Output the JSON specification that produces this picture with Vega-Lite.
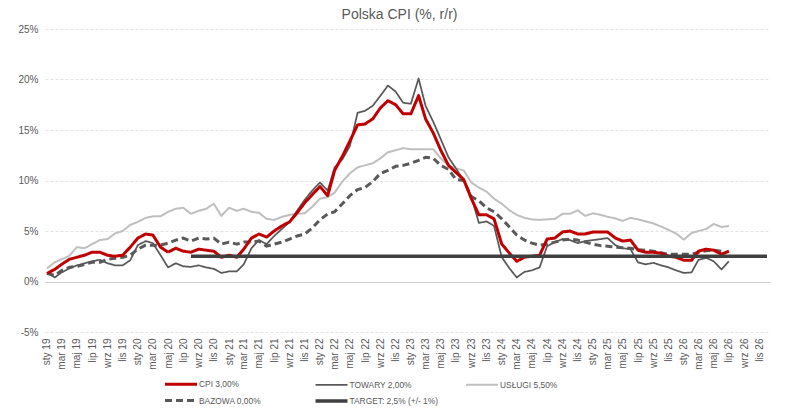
{
  "$schema": "https://vega.github.io/schema/vega-lite/v6.json",
  "autosize": {"type": "none"},
  "width": 725,
  "height": 303,
  "padding": {"left": 45, "top": 29, "right": 23, "bottom": 82},
  "background": "#ffffff",
  "title": {"text": "Polska CPI (%, r/r)", "fontSize": 14, "font": "Liberation Sans", "fontWeight": "normal", "color": "#595959", "offset": 2, "dx": -8},
  "config": {"view": {"stroke": null}, "font": "Liberation Sans"},
  "data": {"values": [
    {"d":"2019-01-01","cpi":0.8,"tow":0.9,"usl":1.3,"baz":0.8},
    {"d":"2019-02-01","cpi":1.2,"tow":0.4,"usl":1.9,"baz":0.6},
    {"d":"2019-03-01","cpi":1.7,"tow":0.9,"usl":2.2,"baz":1.1},
    {"d":"2019-04-01","cpi":2.2,"tow":1.3,"usl":2.55,"baz":1.4},
    {"d":"2019-05-01","cpi":2.4,"tow":1.6,"usl":3.4,"baz":1.5},
    {"d":"2019-06-01","cpi":2.6,"tow":1.8,"usl":3.3,"baz":1.7},
    {"d":"2019-07-01","cpi":2.9,"tow":2.0,"usl":3.7,"baz":1.9},
    {"d":"2019-08-01","cpi":2.9,"tow":2.15,"usl":4.1,"baz":1.9},
    {"d":"2019-09-01","cpi":2.6,"tow":1.8,"usl":4.2,"baz":2.2},
    {"d":"2019-10-01","cpi":2.5,"tow":1.6,"usl":4.75,"baz":2.3},
    {"d":"2019-11-01","cpi":2.6,"tow":1.6,"usl":5.0,"baz":2.4},
    {"d":"2019-12-01","cpi":3.4,"tow":2.1,"usl":5.6,"baz":2.6},
    {"d":"2020-01-01","cpi":4.3,"tow":3.6,"usl":5.9,"baz":3.2},
    {"d":"2020-02-01","cpi":4.7,"tow":4.0,"usl":6.3,"baz":3.6},
    {"d":"2020-03-01","cpi":4.6,"tow":3.8,"usl":6.45,"baz":3.6},
    {"d":"2020-04-01","cpi":3.4,"tow":2.6,"usl":6.45,"baz":3.6},
    {"d":"2020-05-01","cpi":2.9,"tow":1.4,"usl":6.9,"baz":3.8},
    {"d":"2020-06-01","cpi":3.3,"tow":1.8,"usl":7.2,"baz":4.1},
    {"d":"2020-07-01","cpi":3.0,"tow":1.5,"usl":7.3,"baz":4.3},
    {"d":"2020-08-01","cpi":2.9,"tow":1.45,"usl":6.7,"baz":4.0,"tar":2.5},
    {"d":"2020-09-01","cpi":3.2,"tow":1.6,"usl":7.0,"baz":4.3,"tar":2.5},
    {"d":"2020-10-01","cpi":3.1,"tow":1.4,"usl":7.2,"baz":4.2,"tar":2.5},
    {"d":"2020-11-01","cpi":3.0,"tow":1.25,"usl":7.7,"baz":4.3,"tar":2.5},
    {"d":"2020-12-01","cpi":2.4,"tow":0.85,"usl":6.5,"baz":3.7,"tar":2.5},
    {"d":"2021-01-01","cpi":2.6,"tow":1.0,"usl":7.3,"baz":3.9,"tar":2.5},
    {"d":"2021-02-01","cpi":2.4,"tow":1.0,"usl":7.0,"baz":3.7,"tar":2.5},
    {"d":"2021-03-01","cpi":3.2,"tow":1.7,"usl":7.2,"baz":3.9,"tar":2.5},
    {"d":"2021-04-01","cpi":4.3,"tow":3.3,"usl":6.9,"baz":3.9,"tar":2.5},
    {"d":"2021-05-01","cpi":4.7,"tow":4.1,"usl":6.8,"baz":4.0,"tar":2.5},
    {"d":"2021-06-01","cpi":4.4,"tow":3.7,"usl":6.2,"baz":3.5,"tar":2.5},
    {"d":"2021-07-01","cpi":5.0,"tow":4.5,"usl":6.1,"baz":3.7,"tar":2.5},
    {"d":"2021-08-01","cpi":5.5,"tow":5.2,"usl":6.4,"baz":3.9,"tar":2.5},
    {"d":"2021-09-01","cpi":5.9,"tow":5.9,"usl":6.6,"baz":4.2,"tar":2.5},
    {"d":"2021-10-01","cpi":6.8,"tow":7.0,"usl":6.7,"baz":4.5,"tar":2.5},
    {"d":"2021-11-01","cpi":7.8,"tow":8.1,"usl":6.75,"baz":4.7,"tar":2.5},
    {"d":"2021-12-01","cpi":8.6,"tow":9.0,"usl":7.4,"baz":5.3,"tar":2.5},
    {"d":"2022-01-01","cpi":9.4,"tow":9.8,"usl":8.2,"baz":6.1,"tar":2.5},
    {"d":"2022-02-01","cpi":8.5,"tow":9.0,"usl":8.35,"baz":6.7,"tar":2.5},
    {"d":"2022-03-01","cpi":11.0,"tow":11.3,"usl":8.8,"baz":6.9,"tar":2.5},
    {"d":"2022-04-01","cpi":12.4,"tow":12.1,"usl":9.9,"baz":7.7,"tar":2.5},
    {"d":"2022-05-01","cpi":13.9,"tow":13.4,"usl":10.7,"baz":8.5,"tar":2.5},
    {"d":"2022-06-01","cpi":15.5,"tow":16.7,"usl":11.3,"baz":9.1,"tar":2.5},
    {"d":"2022-07-01","cpi":15.6,"tow":16.9,"usl":11.5,"baz":9.3,"tar":2.5},
    {"d":"2022-08-01","cpi":16.1,"tow":17.4,"usl":11.7,"baz":9.9,"tar":2.5},
    {"d":"2022-09-01","cpi":17.2,"tow":18.4,"usl":12.2,"baz":10.7,"tar":2.5},
    {"d":"2022-10-01","cpi":17.9,"tow":19.4,"usl":12.8,"baz":11.0,"tar":2.5},
    {"d":"2022-11-01","cpi":17.5,"tow":18.8,"usl":13.0,"baz":11.4,"tar":2.5},
    {"d":"2022-12-01","cpi":16.6,"tow":17.7,"usl":13.2,"baz":11.5,"tar":2.5},
    {"d":"2023-01-01","cpi":16.6,"tow":17.6,"usl":13.1,"baz":11.7,"tar":2.5},
    {"d":"2023-02-01","cpi":18.4,"tow":20.1,"usl":13.1,"baz":12.0,"tar":2.5},
    {"d":"2023-03-01","cpi":16.1,"tow":17.4,"usl":13.1,"baz":12.3,"tar":2.5},
    {"d":"2023-04-01","cpi":14.7,"tow":15.8,"usl":13.1,"baz":12.2,"tar":2.5},
    {"d":"2023-05-01","cpi":13.0,"tow":14.1,"usl":12.2,"baz":11.5,"tar":2.5},
    {"d":"2023-06-01","cpi":11.5,"tow":12.3,"usl":11.5,"baz":11.1,"tar":2.5},
    {"d":"2023-07-01","cpi":10.8,"tow":11.2,"usl":11.2,"baz":10.1,"tar":2.5},
    {"d":"2023-08-01","cpi":10.1,"tow":10.0,"usl":11.0,"baz":10.0,"tar":2.5},
    {"d":"2023-09-01","cpi":8.2,"tow":8.4,"usl":9.8,"baz":8.4,"tar":2.5},
    {"d":"2023-10-01","cpi":6.6,"tow":5.8,"usl":9.3,"baz":8.0,"tar":2.5},
    {"d":"2023-11-01","cpi":6.6,"tow":5.95,"usl":8.9,"baz":7.3,"tar":2.5},
    {"d":"2023-12-01","cpi":6.2,"tow":5.5,"usl":8.2,"baz":6.9,"tar":2.5},
    {"d":"2024-01-01","cpi":3.7,"tow":2.4,"usl":7.7,"baz":6.2,"tar":2.5},
    {"d":"2024-02-01","cpi":2.8,"tow":1.3,"usl":7.05,"baz":5.4,"tar":2.5},
    {"d":"2024-03-01","cpi":2.0,"tow":0.4,"usl":6.6,"baz":4.6,"tar":2.5},
    {"d":"2024-04-01","cpi":2.4,"tow":0.95,"usl":6.3,"baz":4.1,"tar":2.5},
    {"d":"2024-05-01","cpi":2.5,"tow":1.1,"usl":6.15,"baz":3.8,"tar":2.5},
    {"d":"2024-06-01","cpi":2.6,"tow":1.4,"usl":6.1,"baz":3.6,"tar":2.5},
    {"d":"2024-07-01","cpi":4.2,"tow":3.5,"usl":6.15,"baz":3.7,"tar":2.5},
    {"d":"2024-08-01","cpi":4.3,"tow":3.9,"usl":6.2,"baz":3.9,"tar":2.5},
    {"d":"2024-09-01","cpi":4.9,"tow":4.2,"usl":6.7,"baz":4.1,"tar":2.5},
    {"d":"2024-10-01","cpi":5.0,"tow":4.1,"usl":6.7,"baz":4.2,"tar":2.5},
    {"d":"2024-11-01","cpi":4.7,"tow":3.8,"usl":7.05,"baz":4.1,"tar":2.5},
    {"d":"2024-12-01","cpi":4.7,"tow":4.0,"usl":6.5,"baz":3.9,"tar":2.5},
    {"d":"2025-01-01","cpi":4.9,"tow":4.1,"usl":6.75,"baz":3.7,"tar":2.5},
    {"d":"2025-02-01","cpi":4.9,"tow":4.2,"usl":6.6,"baz":3.55,"tar":2.5},
    {"d":"2025-03-01","cpi":4.9,"tow":4.3,"usl":6.4,"baz":3.5,"tar":2.5},
    {"d":"2025-04-01","cpi":4.3,"tow":3.6,"usl":6.25,"baz":3.4,"tar":2.5},
    {"d":"2025-05-01","cpi":4.0,"tow":3.3,"usl":6.0,"baz":3.35,"tar":2.5},
    {"d":"2025-06-01","cpi":4.1,"tow":3.2,"usl":6.3,"baz":3.3,"tar":2.5},
    {"d":"2025-07-01","cpi":3.1,"tow":1.9,"usl":6.15,"baz":3.15,"tar":2.5},
    {"d":"2025-08-01","cpi":2.9,"tow":1.7,"usl":5.95,"baz":3.1,"tar":2.5},
    {"d":"2025-09-01","cpi":2.9,"tow":1.85,"usl":5.75,"baz":3.0,"tar":2.5},
    {"d":"2025-10-01","cpi":2.8,"tow":1.6,"usl":5.45,"baz":2.85,"tar":2.5},
    {"d":"2025-11-01","cpi":2.5,"tow":1.4,"usl":5.1,"baz":2.7,"tar":2.5},
    {"d":"2025-12-01","cpi":2.4,"tow":1.1,"usl":4.75,"baz":2.7,"tar":2.5},
    {"d":"2026-01-01","cpi":2.1,"tow":0.85,"usl":4.15,"baz":2.7,"tar":2.5},
    {"d":"2026-02-01","cpi":2.1,"tow":0.9,"usl":4.8,"baz":2.7,"tar":2.5},
    {"d":"2026-03-01","cpi":3.0,"tow":2.15,"usl":5.0,"baz":2.9,"tar":2.5},
    {"d":"2026-04-01","cpi":3.2,"tow":2.35,"usl":5.2,"baz":3.05,"tar":2.5},
    {"d":"2026-05-01","cpi":3.1,"tow":2.0,"usl":5.7,"baz":3.1,"tar":2.5},
    {"d":"2026-06-01","cpi":2.7,"tow":1.2,"usl":5.4,"baz":3.0,"tar":2.5},
    {"d":"2026-07-01","cpi":3.0,"tow":2.0,"usl":5.5,"tar":2.5},
    {"d":"2026-08-01","tar":2.5},
    {"d":"2026-09-01","tar":2.5},
    {"d":"2026-10-01","tar":2.5},
    {"d":"2026-11-01","tar":2.5},
    {"d":"2026-12-01","tar":2.5}
  ]},
  "transform": [
    {"fold": ["usl", "tow", "baz", "tar", "cpi"], "as": ["k", "v"]},
    {"filter": "datum.v != null"}
  ],
  "mark": {"type": "line", "strokeJoin": "round", "strokeCap": "butt", "clip": true},
  "encoding": {
    "x": {
      "field": "d", "type": "temporal",
      "scale": {"type": "utc", "domain": [{"year": 2018, "month": 12, "date": 24, "utc": true}, {"year": 2026, "month": 12, "date": 13, "utc": true}]},
      "axis": {
        "title": null, "grid": false, "domain": false, "ticks": false,
        "tickCount": {"interval": "month", "step": 2},
        "labelAngle": -90, "labelPadding": 6, "labelFontSize": 10, "labelColor": "#595959", "labelFont": "Liberation Sans",
        "labelOverlap": false, "labelFlush": false, "labelBound": false,
        "labelExpr": "['sty','lut','mar','kwi','maj','cze','lip','sie','wrz','paź','lis','gru'][utcmonth(datum.value)] + ' ' + utcFormat(datum.value, '%y')"
      }
    },
    "y": {
      "field": "v", "type": "quantitative",
      "scale": {"domain": [-5, 25], "nice": false, "zero": false},
      "axis": {
        "title": null, "domain": false, "ticks": false,
        "values": [-5, 0, 5, 10, 15, 20, 25],
        "labelExpr": "datum.value + '%'",
        "labelPadding": 7, "labelFontSize": 10, "labelColor": "#595959", "labelFont": "Liberation Sans",
        "gridColor": {"condition": {"test": "datum.value === 0", "value": "#D0D0D0"}, "value": "#E3E3E3"},
        "gridDash": {"condition": {"test": "datum.value === 0", "value": []}, "value": [3, 2]},
        "gridWidth": 1
      }
    },
    "color": {
      "field": "k", "type": "nominal",
      "scale": {"domain": ["cpi", "tow", "usl", "baz", "tar"], "range": ["#C00000", "#595959", "#BFBFBF", "#595959", "#404040"]},
      "legend": {
        "title": null, "orient": "none", "legendX": 126, "legendY": 345,
        "direction": "horizontal", "columns": 3, "gridAlign": "all",
        "columnPadding": 20.5, "rowPadding": 0,
        "symbolType": "M-2,0H2", "symbolSize": 256, "labelOffset": 8,
        "labelFontSize": 8.4, "labelColor": "#595959", "labelFont": "Liberation Sans",
        "labelExpr": "datum.value == 'cpi' ? 'CPI 3,00%' : datum.value == 'tow' ? 'TOWARY 2,00%' : datum.value == 'usl' ? 'USŁUGI 5,50%' : datum.value == 'baz' ? 'BAZOWA 0,00%' : 'TARGET: 2,5% (+/- 1%)'"
      }
    },
    "strokeDash": {
      "field": "k", "type": "nominal",
      "scale": {"domain": ["cpi", "tow", "usl", "baz", "tar"], "range": [[1, 0], [1, 0], [1, 0], [7, 4], [1, 0]]}
    },
    "strokeWidth": {
      "field": "k", "type": "nominal",
      "scale": {"type": "ordinal", "domain": ["cpi", "tow", "usl", "baz", "tar"], "range": [3, 1.75, 2, 3, 3.5]}
    }
  }
}
